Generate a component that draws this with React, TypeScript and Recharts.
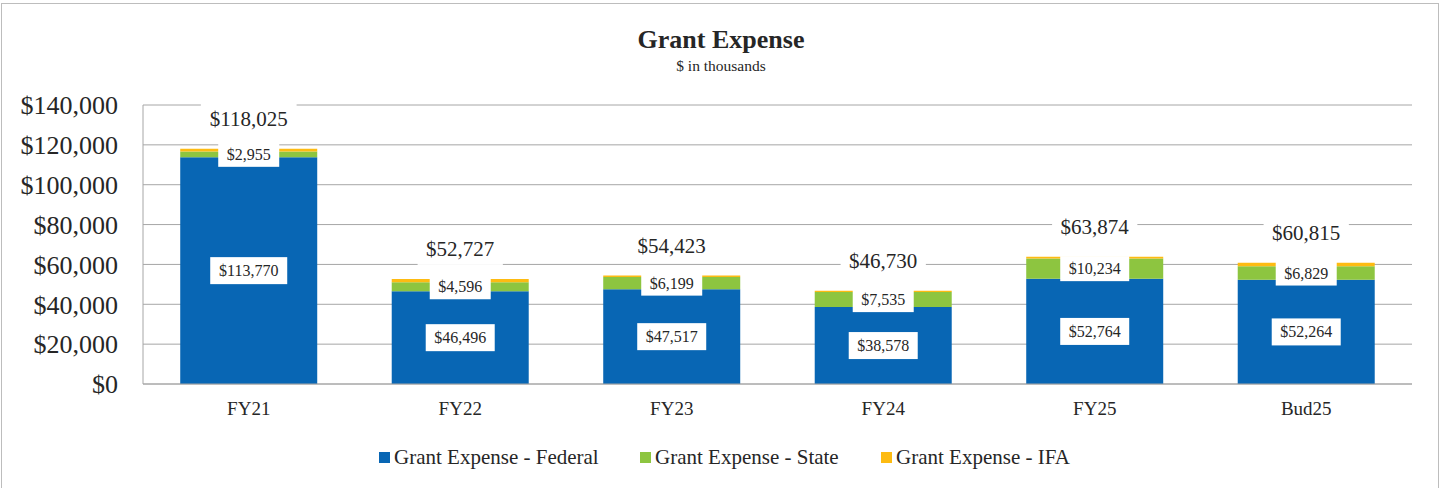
import React from 'react';
import { BarChart, Bar, XAxis, YAxis, CartesianGrid, LabelList } from 'recharts';

const categories = ['FY21', 'FY22', 'FY23', 'FY24', 'FY25', 'Bud25'];
const federal = [113770, 46496, 47517, 38578, 52764, 52264];
const stateVals = [2955, 4596, 6199, 7535, 10234, 6829];
const ifa = [1300, 1635, 707, 617, 876, 1722];
const totals = [118025, 52727, 54423, 46730, 63874, 60815];
const yTicks = [0, 20000, 40000, 60000, 80000, 100000, 120000, 140000];

const seriesNames = ['Grant Expense - Federal', 'Grant Expense - State', 'Grant Expense - IFA'];
const colors = ['#0866B4', '#8DC540', '#FDBB12'];
const legendX = [379, 640, 881];

const data = categories.map((c, i) => ({
  name: c,
  federal: federal[i],
  state: stateVals[i],
  ifa: ifa[i],
  total: totals[i],
}));

const FONT = '"Liberation Serif", "Times New Roman", serif';
const fmt = (v: number) => '$' + Number(v).toLocaleString('en-US');

const textWidth = (s: string, fs: number) => {
  let w = 0;
  for (const ch of s) w += ch === ',' ? 0.25 : 0.5;
  return w * fs;
};

const makeLabel = (fontSize: number, mode: 'center' | 'top', boxH: number) => (props: any) => {
  const { x, y, width, height, value } = props;
  const cx = Number(x) + Number(width) / 2;
  const cy = mode === 'center' ? Number(y) + Number(height) / 2 : Number(y) - 30;
  const s = fmt(value);
  const w = textWidth(s, fontSize) + 17;
  return (
    <g>
      <rect x={cx - w / 2} y={cy - boxH / 2} width={w} height={boxH} fill="#FFFFFF" />
      <text x={cx} y={cy} textAnchor="middle" dominantBaseline="central" fontSize={fontSize} fontFamily={FONT} fill="#262626">
        {s}
      </text>
    </g>
  );
};

const FedLabel = makeLabel(16, 'center', 27);
const StateLabel = makeLabel(16, 'center', 25);
const TotalLabel = makeLabel(21, 'top', 32);

export default function App() {
  return (
    <div style={{ position: 'fixed', left: 0, top: 0, width: 1442, height: 488, background: '#fff', overflow: 'hidden' }}>
      <div style={{ position: 'absolute', left: 1, top: 3, width: 1438, height: 500, border: '1.5px solid #BDBDBD', boxSizing: 'border-box' }} />
      <div style={{ position: 'absolute', left: 0, top: 25, width: 1442, textAlign: 'center', fontFamily: FONT, fontWeight: 'bold', fontSize: 26, color: '#262626', lineHeight: '30px' }}>
        Grant Expense
      </div>
      <div style={{ position: 'absolute', left: 0, top: 57, width: 1442, textAlign: 'center', fontFamily: FONT, fontSize: 15.5, color: '#262626', lineHeight: '18px' }}>
        $ in thousands
      </div>
      <div style={{ position: 'absolute', left: 0, top: 0 }}>
        <BarChart width={1442} height={488} data={data} margin={{ top: 105, right: 30, bottom: 74, left: 13 }} barCategoryGap="17.6%">
          <CartesianGrid vertical={false} stroke="#A6A6A6" strokeWidth={1} />
          <XAxis
            dataKey="name"
            height={30}
            tickLine={false}
            tickSize={0}
            tickMargin={18}
            axisLine={{ stroke: '#A6A6A6' }}
            tick={{ fontSize: 19, fontFamily: FONT, fill: '#262626' }}
          />
          <YAxis
            width={130}
            domain={[0, 140000]}
            ticks={yTicks}
            interval={0}
            tickLine={false}
            tickSize={0}
            tickMargin={25}
            axisLine={{ stroke: '#A6A6A6' }}
            tickFormatter={(v: number) => fmt(v)}
            tick={{ fontSize: 26, fontFamily: FONT, fill: '#262626' }}
          />
          <Bar dataKey="federal" stackId="a" fill={colors[0]} isAnimationActive={false}>
            <LabelList dataKey="federal" content={FedLabel} />
          </Bar>
          <Bar dataKey="state" stackId="a" fill={colors[1]} isAnimationActive={false}>
            <LabelList dataKey="state" content={StateLabel} />
          </Bar>
          <Bar dataKey="ifa" stackId="a" fill={colors[2]} isAnimationActive={false}>
            <LabelList dataKey="total" content={TotalLabel} />
          </Bar>
        </BarChart>
      </div>
      {seriesNames.map((n, i) => (
        <div key={n} style={{ position: 'absolute', left: legendX[i], top: 444, height: 26, display: 'flex', alignItems: 'center', fontFamily: FONT, fontSize: 21, color: '#262626', lineHeight: '26px', whiteSpace: 'nowrap' }}>
          <span style={{ display: 'inline-block', width: 11, height: 11, background: colors[i], marginRight: 4 }} />
          <span>{n}</span>
        </div>
      ))}
    </div>
  );
}
